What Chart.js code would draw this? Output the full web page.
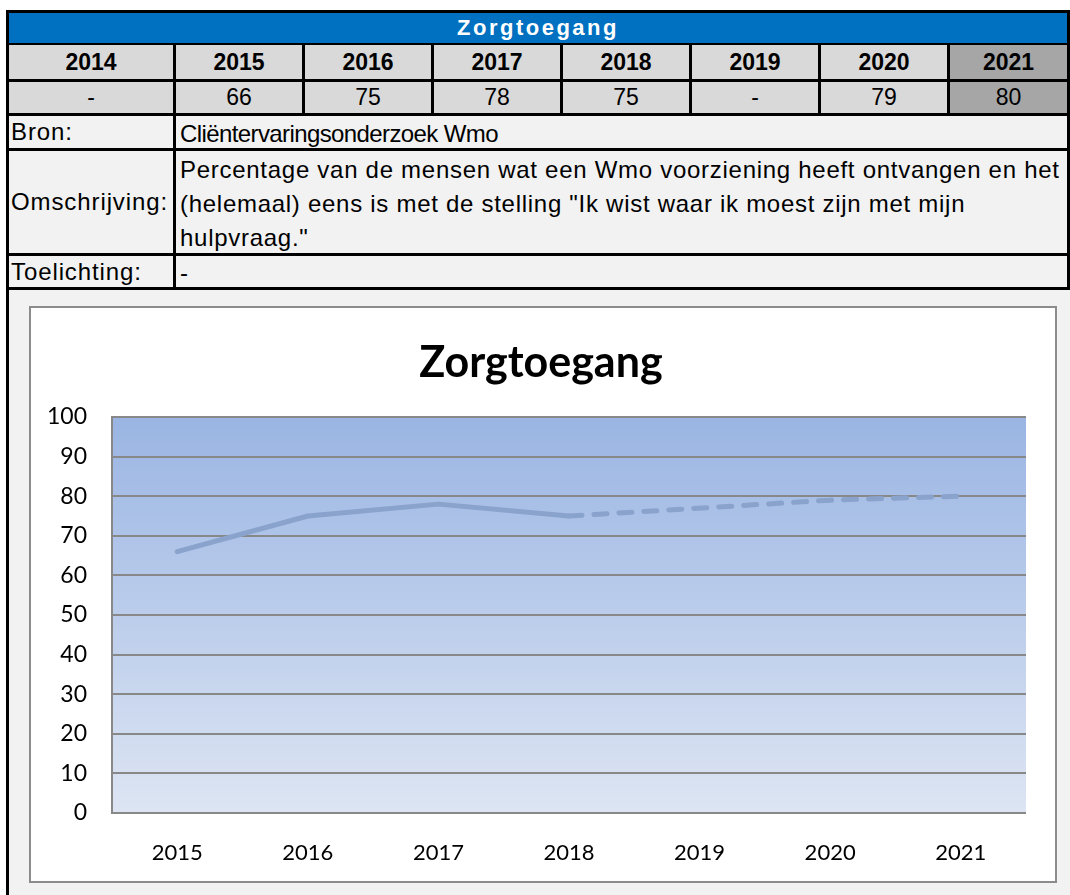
<!DOCTYPE html>
<html>
<head>
    <title>Zorgtoegang</title>
    <script src="https://cdn.jsdelivr.net/npm/chart.js"></script>
    <style>
        body {
            margin: 0;
            background: white;
            font-family: "Liberation Sans", Arial, sans-serif;
        }
        .sheet {
            position: relative;
            width: 1070px;
            height: 895px;
        }
        .blk {
            position: absolute;
            background: black;
        }
        .cell {
            position: absolute;
            display: flex;
            align-items: center;
            font-size: 23px;
            color: black;
            box-sizing: border-box;
            overflow: hidden;
            white-space: nowrap;
        }
        .center {
            justify-content: center;
        }
        .grey { background: #d9d9d9; }
        .dark { background: #a6a6a6; }
        .light { background: #f2f2f2; }
        .bold { font-weight: bold; }
        .info {
            font-size: 24px;
            letter-spacing: 0.72px;
        }
        .chart-box {
            position: absolute;
            left: 29px;
            top: 306px;
            width: 1028px;
            height: 577px;
            box-sizing: border-box;
            border: 2px solid #8c8c8c;
            background: white;
        }
        canvas {
            display: block;
        }
    </style>
</head>
<body>
    <div class="sheet" id="sheet">
        <div class="blk" style="left:6px;top:10px;width:1064px;height:280px"></div>
        <div class="light" style="position:absolute;left:9px;top:290px;width:1061px;height:605px"></div>
        <div class="blk" style="left:6px;top:290px;width:3px;height:605px"></div>
        <div class="cell center bold" id="header" style="left:9px;top:13px;width:1058px;height:30px;background:#0070c0;color:white;font-size:22px;letter-spacing:2.5px"></div>
        <div class="chart-box">
            <canvas id="zorgChart" width="1024" height="573"></canvas>
        </div>
    </div>

    <script>
        const chartTitle = 'Zorgtoegang';
        const tableYears = ['2014', '2015', '2016', '2017', '2018', '2019', '2020', '2021'];
        const tableValues = [null, 66, 75, 78, 75, null, 79, 80];
        const categories = ['2015', '2016', '2017', '2018', '2019', '2020', '2021'];
        const seriesValues = [66, 75, 78, 75, null, 79, 80];
        const yTicks = [0, 10, 20, 30, 40, 50, 60, 70, 80, 90, 100];
        const infoLabels = ['Bron:', 'Omschrijving:', 'Toelichting:'];
        const infoTexts = [
            'Cliëntervaringsonderzoek Wmo',
            'Percentage van de mensen wat een Wmo voorziening heeft ontvangen en het<br>(helemaal) eens is met de stelling "Ik wist waar ik moest zijn met mijn<br>hulpvraag."',
            '-'
        ];

        // spreadsheet part above the chart
        const sheet = document.getElementById('sheet');
        document.getElementById('header').innerText = chartTitle;

        const colX = [9, 176, 305, 434, 563, 692, 821, 950];
        const colW = [164, 126, 126, 126, 126, 126, 126, 117];

        function addCell(cls, x, y, w, h, html, extra) {
            const d = document.createElement('div');
            d.className = 'cell ' + cls;
            d.style.left = x + 'px';
            d.style.top = y + 'px';
            d.style.width = w + 'px';
            d.style.height = h + 'px';
            if (extra) d.style.cssText += extra;
            d.innerHTML = html;
            sheet.appendChild(d);
        }

        tableYears.forEach((yr, i) => {
            const last = i === tableYears.length - 1;
            addCell('center bold ' + (last ? 'dark' : 'grey'), colX[i], 45, colW[i], 34, yr);
            const v = tableValues[i] === null ? '-' : tableValues[i];
            addCell('center ' + (last ? 'dark' : 'grey'), colX[i], 82, colW[i], 31, v);
        });

        const rowY = [116, 151, 256];
        const rowH = [32, 102, 31];
        infoLabels.forEach((lab, i) => {
            addCell('light info', 9, rowY[i], 164, rowH[i], lab, 'padding-left:2px;letter-spacing:0.9px');
            // the source line is drawn a bit narrower than the rest
            const squeeze = i === 0 ? 'letter-spacing:-0.6px;' : '';
            addCell('light info', 176, rowY[i], 891, rowH[i], infoTexts[i], 'padding-left:4px;padding-top:3px;line-height:34px;' + squeeze);
        });

        // chart
        const areaFill = {
            id: 'areaFill',
            beforeDraw(chart) {
                const { ctx, chartArea } = chart;
                const g = ctx.createLinearGradient(0, chartArea.top, 0, chartArea.bottom);
                g.addColorStop(0, '#9ab5e3');
                g.addColorStop(1, '#dde5f3');
                ctx.save();
                ctx.fillStyle = g;
                ctx.fillRect(chartArea.left, chartArea.top, chartArea.right - chartArea.left, chartArea.bottom - chartArea.top);
                ctx.restore();
            }
        };

        // title centred on the whole chart box, not on the padded layout
        const boxTitle = {
            id: 'boxTitle',
            afterDraw(chart) {
                const ctx = chart.ctx;
                ctx.save();
                ctx.font = 'bold 43px Lato';
                ctx.fillStyle = 'black';
                ctx.textAlign = 'center';
                ctx.textBaseline = 'middle';
                ctx.fillText(chartTitle, 510, 55);
                ctx.restore();
            }
        };

        const lineColor = '#8aa3cc';

        new Chart(document.getElementById('zorgChart'), {
            type: 'line',
            data: {
                labels: categories,
                datasets: [{
                    data: seriesValues,
                    borderColor: lineColor,
                    borderWidth: 5,
                    borderCapStyle: 'round',
                    borderJoinStyle: 'round',
                    pointRadius: 0,
                    tension: 0,
                    spanGaps: true,
                    segment: {
                        borderDash: ctx => ctx.p0DataIndex >= 3 ? [13, 12] : undefined
                    }
                }]
            },
            options: {
                responsive: false,
                animation: false,
                layout: { padding: { left: 0, right: 29, top: 109, bottom: 0 } },
                plugins: {
                    legend: { display: false },
                    tooltip: { enabled: false },
                    title: { display: false }
                },
                scales: {
                    x: {
                        offset: true,
                        grid: { display: false, drawTicks: false },
                        border: { display: false },
                        ticks: {
                            color: 'black',
                            padding: 27,
                            font: { family: 'Lato', size: 22 }
                        },
                        afterFit: s => { s.height = 68; }
                    },
                    y: {
                        min: 0,
                        max: 100,
                        afterBuildTicks: s => { s.ticks = yTicks.map(v => ({ value: v })); },
                        grid: { color: '#888888', lineWidth: 2, drawTicks: false },
                        border: { display: true, color: '#888888', width: 2 },
                        ticks: {
                            color: 'black',
                            padding: 25,
                            font: { family: 'Lato', size: 23 }
                        },
                        afterFit: s => { s.width = 81; }
                    }
                }
            },
            plugins: [areaFill, boxTitle]
        });
    </script>
</body>
</html>
